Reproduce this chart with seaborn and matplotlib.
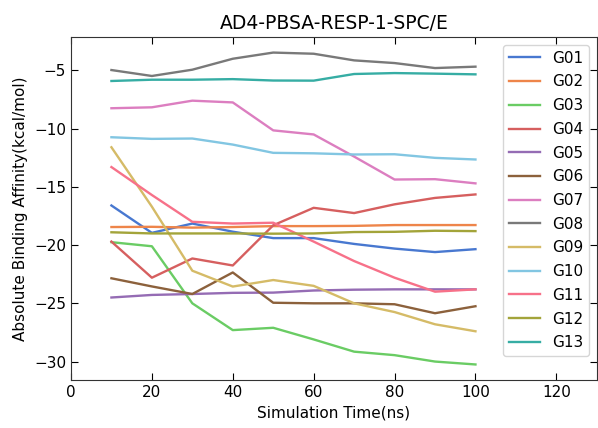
import matplotlib
matplotlib.use("Agg")
import matplotlib.pyplot as plt
import seaborn as sns
import pandas as pd

time_ns = [10, 20, 30, 40, 50, 60, 70, 80, 90, 100]

G01 = [-16.6, -18.95, -18.15, -18.85, -19.4, -19.4, -19.9, -20.3, -20.6, -20.35]
G02 = [-18.45, -18.43, -18.5, -18.45, -18.37, -18.37, -18.35, -18.28, -18.28, -18.28]
G03 = [-19.75, -20.1, -25.0, -27.3, -27.1, -28.1, -29.15, -29.45, -30.0, -30.25]
G04 = [-19.7, -22.8, -21.15, -21.75, -18.3, -16.8, -17.25, -16.5, -15.95, -15.65]
G05 = [-24.5, -24.28, -24.2, -24.1, -24.08, -23.9, -23.83, -23.8, -23.8, -23.8]
G06 = [-22.85, -23.55, -24.2, -22.35, -24.95, -25.0, -25.0, -25.08, -25.85, -25.25]
G07 = [-8.25, -8.17, -7.6, -7.75, -10.15, -10.5, -12.4, -14.37, -14.34, -14.7]
G08 = [-4.97, -5.48, -4.94, -4.0, -3.47, -3.57, -4.14, -4.37, -4.8, -4.68]
G09 = [-11.6, -16.7, -22.2, -23.56, -23.0, -23.5, -25.0, -25.75, -26.8, -27.4]
G10 = [-10.74, -10.88, -10.85, -11.37, -12.08, -12.12, -12.22, -12.2, -12.51, -12.65]
G11 = [-13.3, -15.7, -18.0, -18.15, -18.08, -19.7, -21.37, -22.8, -24.0, -23.8]
G12 = [-18.9, -19.0, -19.0, -19.0, -19.02, -19.0, -18.88, -18.86, -18.77, -18.8]
G13 = [-5.91, -5.8, -5.8, -5.75, -5.87, -5.88, -5.31, -5.23, -5.28, -5.34]

labels = ["G01", "G02", "G03", "G04", "G05", "G06", "G07", "G08", "G09",
          "G10", "G11", "G12", "G13"]
series = [G01, G02, G03, G04, G05, G06, G07, G08, G09, G10, G11, G12, G13]

colors = sns.color_palette("muted", 10).as_hex() + ["#f77189", "#a3a43a", "#36ada4"]

rows = []
for lab, vals in zip(labels, series):
    for t, v in zip(time_ns, vals):
        rows.append({"Time": t, "Value": v, "Group": lab})
df = pd.DataFrame(rows)

fig = plt.figure(figsize=(5.98, 4.28), dpi=100)
ax = fig.add_axes([0.1187, 0.112, 0.8793, 0.8016])

sns.lineplot(data=df, x="Time", y="Value", hue="Group", hue_order=labels,
             palette=colors, linewidth=1.7, ax=ax)

ax.set_xlim(0, 130)
ax.set_xticks([0, 20, 40, 60, 80, 100, 120])
ax.set_yticks([-30, -25, -20, -15, -10, -5])
ax.tick_params(direction="in", top=True, right=True, labelsize=11, length=5)
ax.set_xlabel("Simulation Time(ns)", fontsize=11)
ax.set_ylabel("Absolute Binding Affinity(kcal/mol)", fontsize=11)
ax.set_title("AD4-PBSA-RESP-1-SPC/E", fontsize=13.5)
for s in ax.spines.values():
    s.set_color("#333333")
ax.legend(loc="upper right", fontsize=11, title=None, labelspacing=0.57)

fig.savefig("out.png", dpi=100)
